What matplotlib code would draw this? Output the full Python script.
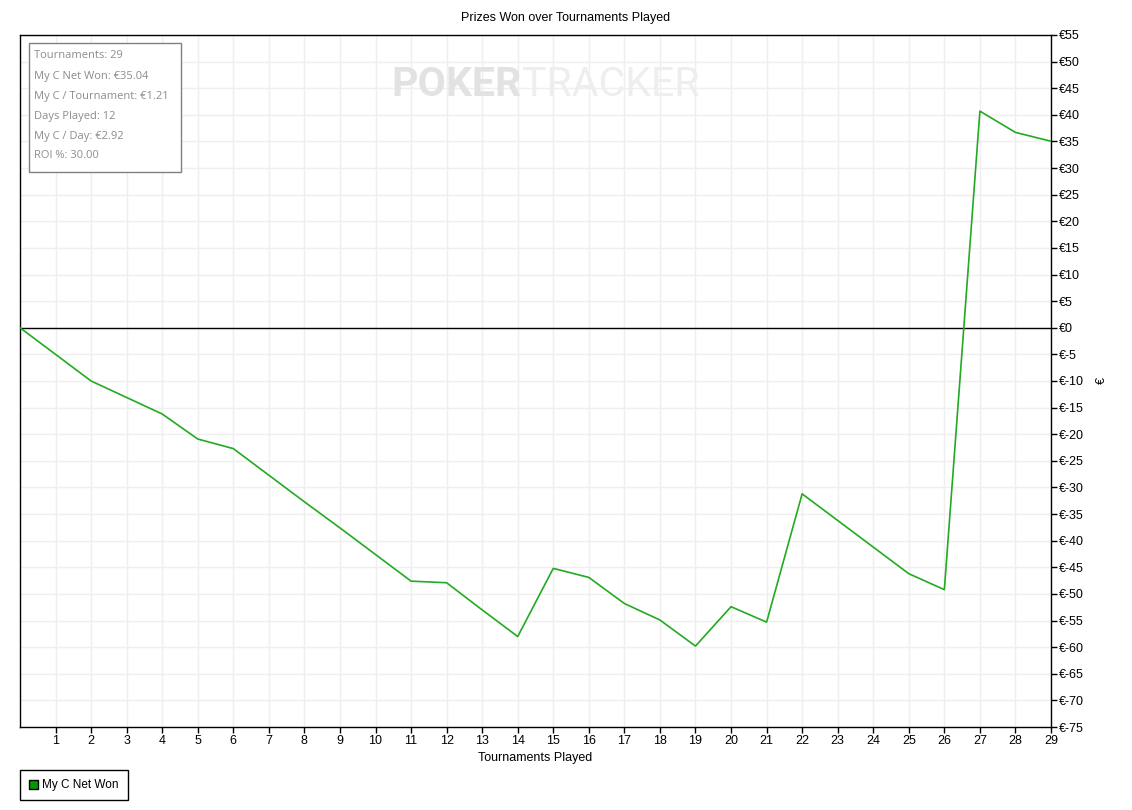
import matplotlib
matplotlib.use('Agg')
import matplotlib.pyplot as plt
from matplotlib.patches import Rectangle, Patch

# tournament number and running net won (EUR)
tournaments = list(range(0, 30))
net_won = [0, -5.0, -10.0, -13.1, -16.2, -20.9, -22.7, -27.7, -32.7, -37.6,
           -42.6, -47.6, -47.9, -53.0, -58.0, -45.2, -46.9, -51.8, -54.9, -59.8,
           -52.4, -55.3, -31.2, -36.2, -41.2, -46.2, -49.2, 40.7, 36.7, 35.04]

x_ticks = list(range(1, 30))
y_ticks = list(range(-75, 56, 5))

stats_lines = ['Tournaments: 29', 'My C Net Won: €35.04', 'My C / Tournament: €1.21',
               'Days Played: 12', 'My C / Day: €2.92', 'ROI %: 30.00']

W, H = 1132, 810
fig = plt.figure(figsize=(W / 100, H / 100), dpi=100)
fig.patch.set_facecolor('white')

# plot area in pixels: left 20, right 1051, top 35, bottom 727
ax = fig.add_axes([20 / W, (H - 727) / H, 1031 / W, 692 / H])
ax.set_xlim(0, 29)
ax.set_ylim(-75, 55)

ax.set_xticks(x_ticks)
ax.set_xticklabels([str(t) for t in x_ticks])
ax.set_yticks(y_ticks)
ax.set_yticklabels(['€' + str(v) for v in y_ticks])
ax.yaxis.tick_right()
ax.yaxis.set_label_position('right')
ax.tick_params(axis='both', direction='out', length=4, width=1, colors='black',
               labelsize=9, pad=2)
for lbl in ax.get_xticklabels() + ax.get_yticklabels():
    lbl.set_family('Liberation Sans')

ax.grid(True, color='#efefef', linewidth=1)
ax.set_axisbelow(True)
for s in ax.spines.values():
    s.set_color('black')
    s.set_linewidth(1)

ax.axhline(0, color='black', linewidth=1, zorder=2)
ax.plot(tournaments, net_won, color='#22aa22', linewidth=1.2, zorder=3)

ax.set_xlabel('Tournaments Played', fontsize=9, family='Liberation Sans', labelpad=3)
ax.set_ylabel('€', fontsize=9, family='Liberation Sans', rotation=90, labelpad=8)

fig.text(566 / W, 1 - 18 / H, 'Prizes Won over Tournaments Played', ha='center',
         va='center', fontsize=9, family='Liberation Sans')

# watermark
fig.text(522 / W, 1 - 85 / H, 'POKER', ha='right', va='center', fontsize=29.5,
         fontweight='bold', color='#e2e2e2', family='Roboto', zorder=1)
fig.text(522 / W, 1 - 85 / H, 'TRACKER', ha='left', va='center', fontsize=29.5,
         color='#eeeeee', family='Roboto', zorder=1)

# stats box
fig.patches.append(Rectangle((29 / W, 1 - 172 / H), 152 / W, 129 / H,
                             transform=fig.transFigure, facecolor='white',
                             edgecolor='#808080', linewidth=1, zorder=5))
for i, line in enumerate(stats_lines):
    fig.text(34 / W, 1 - (56 + 20 * i) / H, line, ha='left', va='center',
             fontsize=8, color='#8c8c8c', family='Open Sans', zorder=6)

# legend
fig.legend(handles=[Patch(facecolor='#009900', edgecolor='black', label='My C Net Won')],
           loc='lower left', bbox_to_anchor=(20 / W, 10 / H), borderaxespad=0,
           fancybox=False, edgecolor='black', framealpha=1, handlelength=0.8,
           handleheight=0.8, handletextpad=0.35, borderpad=0.75,
           prop={'family': 'Liberation Sans', 'size': 8.5})

fig.savefig('out.png', dpi=100)
